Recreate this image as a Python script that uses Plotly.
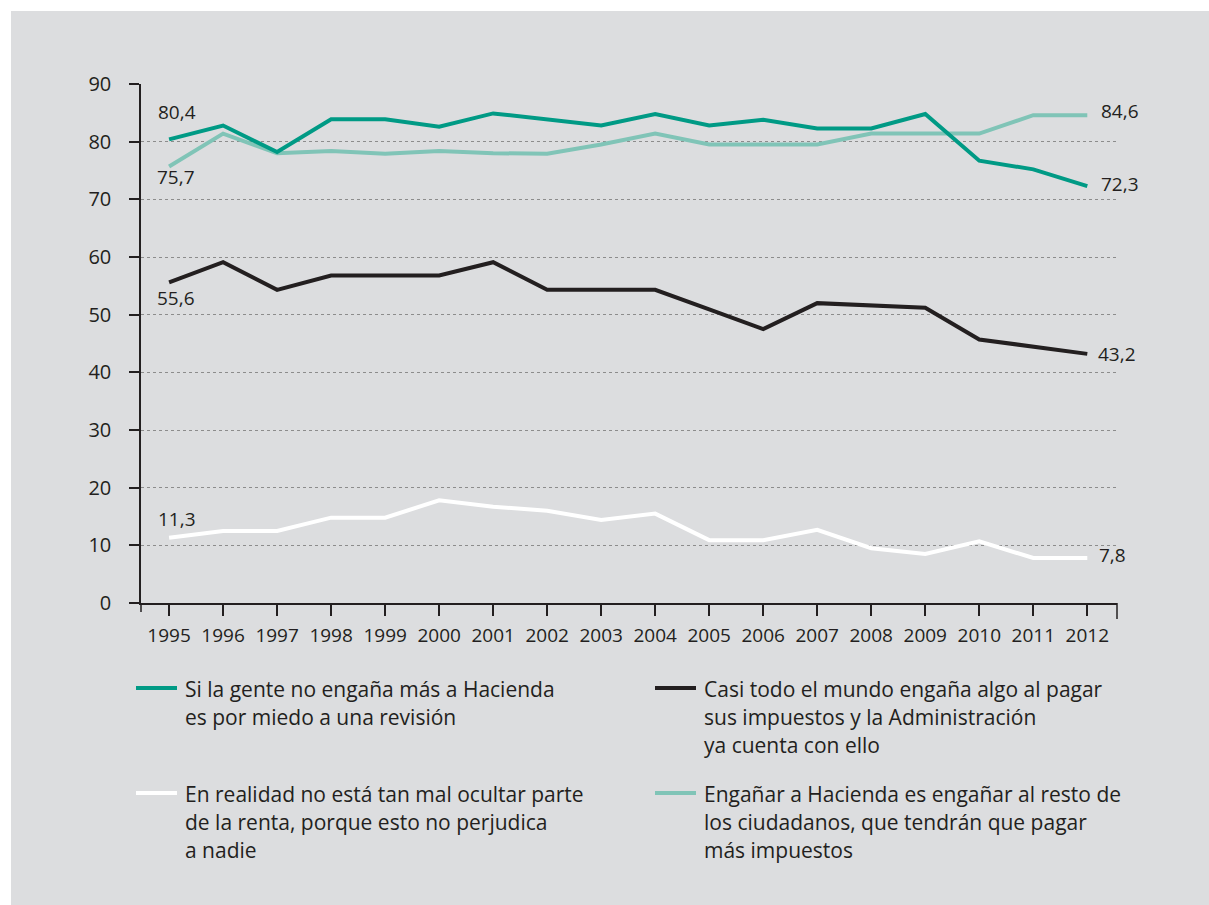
import plotly.graph_objects as go

years = list(range(1995, 2013))

miedo_revision = [80.4, 82.8, 78.2, 83.9, 83.9, 82.6, 84.9, 83.8, 82.8, 84.8,
                  82.8, 83.8, 82.3, 82.3, 84.8, 76.7, 75.2, 72.3]
enganar_ciudadanos = [75.7, 81.4, 78.0, 78.4, 77.9, 78.4, 78.0, 77.9, 79.5, 81.4,
                      79.5, 79.5, 79.5, 81.4, 81.4, 81.4, 84.6, 84.6]
casi_todo_mundo = [55.6, 59.1, 54.3, 56.8, 56.8, 56.8, 59.1, 54.3, 54.3, 54.3,
                   50.9, 47.5, 52.0, 51.6, 51.2, 45.7, 44.4, 43.2]
no_esta_mal = [11.3, 12.5, 12.5, 14.8, 14.8, 17.8, 16.7, 16.0, 14.4, 15.5,
               10.9, 10.9, 12.7, 9.5, 8.5, 10.7, 7.8, 7.8]

legend_miedo = ["Si la gente no engaña más a Hacienda", "es por miedo a una revisión"]
legend_casi = ["Casi todo el mundo engaña algo al pagar", "sus impuestos y la Administración",
               "ya cuenta con ello"]
legend_no_mal = ["En realidad no está tan mal ocultar parte", "de la renta, porque esto no perjudica",
                 "a nadie"]
legend_enganar = ["Engañar a Hacienda es engañar al resto de", "los ciudadanos, que tendrán que pagar",
                  "más impuestos"]

y_ticks = list(range(0, 100, 10))

C_TEAL = "#009a85"
C_LTEAL = "#80c4b7"
C_BLACK = "#231f20"
C_WHITE = "#ffffff"
C_TEXT = "#231f20"
C_PANEL = "#dcdddf"
FONT = "Open Sans"

W, H = 1209, 905
L, R, T, B = 141, 1117, 84, 603


def xp(px):
    return (px - L) / (R - L)


def yp(py):
    return (B - py) / (B - T)


fig = go.Figure()

series = [
    (enganar_ciudadanos, C_LTEAL, legend_enganar),
    (miedo_revision, C_TEAL, legend_miedo),
    (casi_todo_mundo, C_BLACK, legend_casi),
    (no_esta_mal, C_WHITE, legend_no_mal),
]
for vals, col, name in series:
    fig.add_trace(go.Scatter(x=years, y=vals, mode="lines", name=" ".join(name),
                             line=dict(color=col, width=4), showlegend=False,
                             hoverinfo="x+y"))

shapes = [
    dict(type="rect", xref="paper", yref="paper", x0=xp(11), x1=xp(W + 5), y0=yp(H + 5), y1=yp(11),
         fillcolor=C_PANEL, line=dict(width=0), layer="below"),
    dict(type="line", xref="paper", yref="paper", x0=0, x1=0, y0=yp(B), y1=yp(612),
         line=dict(color=C_TEXT, width=1.5)),
    dict(type="line", xref="paper", yref="paper", x0=1, x1=1, y0=yp(B), y1=yp(619),
         line=dict(color=C_TEXT, width=1.5)),
]

annotations = []


def fmt(v):
    return f"{v:.1f}".replace(".", ",")


# start/end value labels
label_specs = [
    (years[0], miedo_revision[0], "center", 8, 27),
    (years[0], enganar_ciudadanos[0], "center", 7, -11),
    (years[0], casi_todo_mundo[0], "center", 7, -16),
    (years[0], no_esta_mal[0], "center", 8, 19),
    (years[-1], enganar_ciudadanos[-1], "left", 12, 4),
    (years[-1], miedo_revision[-1], "left", 12, 2),
    (years[-1], casi_todo_mundo[-1], "left", 9, 0),
    (years[-1], no_esta_mal[-1], "left", 10, 3),
]
for x, v, xa, xs, ys in label_specs:
    annotations.append(dict(x=x, y=v, xref="x", yref="y", text=fmt(v), showarrow=False,
                            xanchor=xa, yanchor="middle", xshift=xs, yshift=ys,
                            font=dict(family=FONT, size=19, color=C_TEXT)))

# custom legend
legend_items = [
    (C_TEAL, legend_miedo, 136, 177, 688, 183),
    (C_BLACK, legend_casi, 655, 696, 688, 702),
    (C_WHITE, legend_no_mal, 136, 177, 793, 183),
    (C_LTEAL, legend_enganar, 655, 696, 793, 702),
]
for col, lines, lx0, lx1, ly, tx in legend_items:
    shapes.append(dict(type="line", xref="paper", yref="paper", x0=xp(lx0), x1=xp(lx1),
                       y0=yp(ly), y1=yp(ly), line=dict(color=col, width=4)))
    for i, txt in enumerate(lines):
        annotations.append(dict(x=xp(tx), y=yp(ly + 1 + 28 * i), xref="paper", yref="paper",
                                text=txt, showarrow=False, xanchor="left", yanchor="middle",
                                font=dict(family=FONT, size=21, color=C_TEXT)))

fig.update_layout(
    width=W, height=H,
    margin=dict(l=L, r=W - R, t=T, b=H - B, pad=0),
    paper_bgcolor="#ffffff",
    plot_bgcolor="rgba(0,0,0,0)",
    font=dict(family=FONT, color=C_TEXT),
    shapes=shapes,
    annotations=annotations,
    showlegend=False,
    xaxis=dict(range=[1994.48, 2012.55], tickmode="array", tickvals=years,
               ticktext=[str(y) for y in years], ticks="outside", ticklen=11, tickwidth=1.5,
               tickcolor=C_TEXT, showline=True, linecolor=C_TEXT, linewidth=1.5,
               showgrid=False, zeroline=False, ticklabelstandoff=3,
               tickfont=dict(family=FONT, size=19, color=C_TEXT)),
    yaxis=dict(range=[0, 90], tickmode="array", tickvals=y_ticks, ticks="outside", ticklen=10,
               tickwidth=1.5, tickcolor=C_TEXT, showline=True, linecolor=C_TEXT, linewidth=1.5,
               showgrid=True, gridcolor="#8c8c8c", gridwidth=1, griddash="dot",
               zeroline=False, ticklabelstandoff=14,
               tickfont=dict(family=FONT, size=20, color=C_TEXT)),
)

fig.write_html("out.html", config={"displayModeBar": False},
               post_script="document.body.style.margin='0px';document.body.style.overflow='hidden';")
